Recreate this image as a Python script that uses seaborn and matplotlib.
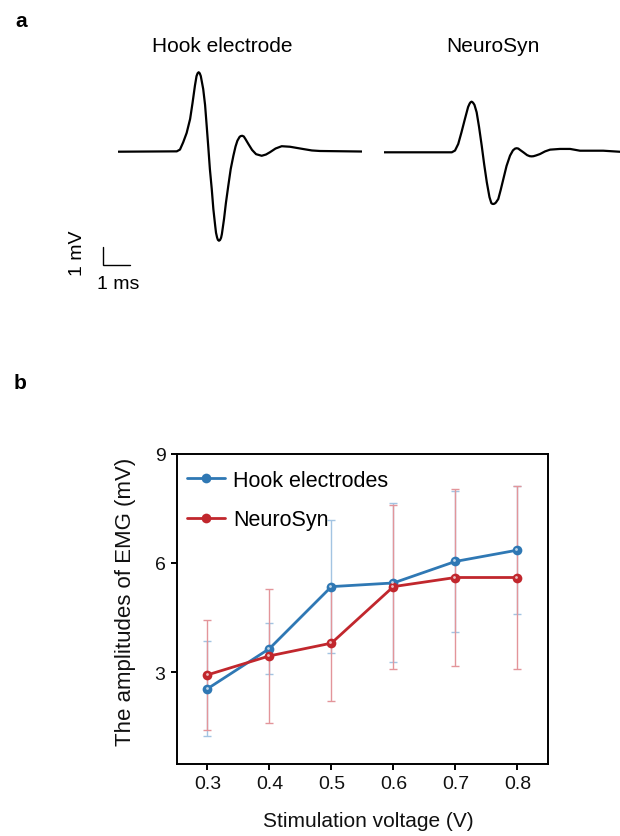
import numpy as np
import pandas as pd
import matplotlib
matplotlib.use("Agg")
import matplotlib.pyplot as plt
import matplotlib.transforms as mtransforms
from matplotlib.lines import Line2D
import seaborn as sns

# ---- panel a: representative EMG traces (time in ms, amplitude in mV) ----
hook_t = [0.00, 2.19, 2.31, 2.43, 2.56, 2.69, 2.78, 2.87, 2.93, 2.97, 3.01, 3.05,
          3.09, 3.18, 3.25, 3.31, 3.37, 3.43, 3.50, 3.56, 3.63, 3.66, 3.70, 3.73,
          3.77, 3.81, 3.85, 3.88, 3.96, 4.03, 4.12, 4.21, 4.31, 4.39, 4.46, 4.54,
          4.58, 4.64, 4.70, 4.76, 4.87, 5.01, 5.16, 5.37, 5.53, 5.68, 5.89, 6.12,
          6.43, 6.66, 6.93, 7.25, 7.55, 9.13]
hook_v = [0.00, 0.02, 0.12, 0.53, 1.06, 1.85, 2.75, 3.73, 4.27, 4.43, 4.49, 4.43,
          4.27, 3.54, 2.64, 1.47, 0.27, -0.98, -2.11, -3.24, -4.20, -4.58, -4.85, -4.98,
          -5.03, -4.99, -4.86, -4.65, -3.80, -2.90, -1.92, -0.98, -0.23, 0.29, 0.62, 0.83,
          0.88, 0.90, 0.86, 0.72, 0.44, 0.10, -0.14, -0.23, -0.16, -0.03, 0.18, 0.31,
          0.28, 0.22, 0.15, 0.07, 0.04, 0.01]

neuro_t = [0.00, 2.54, 2.66, 2.78, 2.90, 3.03, 3.15, 3.21, 3.245, 3.28, 3.315, 3.35,
           3.39, 3.47, 3.56, 3.66, 3.75, 3.85, 3.95, 4.02, 4.055, 4.09, 4.125, 4.16,
           4.19, 4.28, 4.37, 4.47, 4.59, 4.72, 4.83, 4.91, 4.97, 5.03, 5.09, 5.22,
           5.36, 5.46, 5.53, 5.60, 5.69, 5.84, 6.03, 6.22, 6.59, 6.97, 7.34, 8.21, 8.84]
neuro_v = [0.00, 0.00, 0.10, 0.47, 1.12, 1.88, 2.56, 2.76, 2.83, 2.86, 2.83, 2.77,
           2.67, 2.26, 1.43, 0.37, -0.66, -1.69, -2.53, -2.87, -2.91, -2.92, -2.91, -2.88,
           -2.84, -2.64, -2.13, -1.51, -0.77, -0.19, 0.11, 0.21, 0.23, 0.21, 0.14, 0.00,
           -0.16, -0.22, -0.23, -0.22, -0.18, -0.10, 0.05, 0.15, 0.19, 0.19, 0.09, 0.09, 0.03]

# ---- panel b: EMG amplitude vs stimulation voltage (mean ± SD) ----
voltages = [0.3, 0.4, 0.5, 0.6, 0.7, 0.8]
hook_mean = [2.55, 3.65, 5.35, 5.45, 6.04, 6.35]
hook_sd = [1.30, 0.70, 1.83, 2.18, 1.94, 1.76]
neuro_mean = [2.93, 3.45, 3.80, 5.35, 5.60, 5.60]
neuro_sd = [1.50, 1.84, 1.58, 2.25, 2.42, 2.52]
groups = ["Hook electrodes", "NeuroSyn"]
x_ticks = [0.3, 0.4, 0.5, 0.6, 0.7, 0.8]
y_ticks = [3, 6, 9]

BLUE = "#2f78b4"
RED = "#c1272d"
BLUE_ERR = "#a3c4e2"
RED_ERR = "#e3959a"

sns.set_theme(style="white")
plt.rcParams["font.family"] = ["Liberation Sans", "DejaVu Sans"]
plt.rcParams["text.color"] = "black"
plt.rcParams["axes.labelcolor"] = "black"

W, H = 620, 837
fig = plt.figure(figsize=(W / 100, H / 100), dpi=100)


def fig_box(x0, y0, x1, y1):
    """Pixel box (top-left origin) -> figure fraction rect."""
    return [x0 / W, 1 - y1 / H, (x1 - x0) / W, (y1 - y0) / H]


PX_PER_MS = 26.7
PX_PER_MV = 17.7

# trace axes share the same scale (1 ms / 1 mV per scale bar)
ax_h = fig.add_axes(fig_box(118.3, 60, 362, 250))
ax_h.set_xlim(0, (362 - 118.3) / PX_PER_MS)
ax_h.set_ylim((152.7 - 250) / PX_PER_MV, (152.7 - 60) / PX_PER_MV)
sns.lineplot(x=hook_t, y=hook_v, ax=ax_h, color="black", linewidth=1.6, sort=False)
ax_h.axis("off")

ax_n = fig.add_axes(fig_box(384, 60, 620, 250))
ax_n.set_xlim(0, (620 - 384) / PX_PER_MS)
ax_n.set_ylim((153.3 - 250) / PX_PER_MV, (153.3 - 60) / PX_PER_MV)
sns.lineplot(x=neuro_t, y=neuro_v, ax=ax_n, color="black", linewidth=1.6, sort=False)
ax_n.axis("off")

# scale bar: 1 ms horizontal, 1 mV vertical
sb_x0 = (103.3 - 118.3) / PX_PER_MS
sb_y0 = (152.7 - 266) / PX_PER_MV
ax_h.plot([sb_x0, sb_x0, sb_x0 + 1.0], [sb_y0 + 1.0, sb_y0, sb_y0],
          color="black", linewidth=1.0, clip_on=False, solid_joinstyle="miter")
ax_h.text(sb_x0 + 0.55, sb_y0 - 1.05, "1 ms", ha="center", va="center", fontsize=14)
ax_h.text(sb_x0 - 0.95, sb_y0 + 0.7, "1 mV", ha="center", va="center",
          rotation=90, fontsize=14)

fig.text(222.5 / W, 1 - 46.7 / H, "Hook electrode", ha="center", va="center", fontsize=15)
fig.text(493.3 / W, 1 - 46.7 / H, "NeuroSyn", ha="center", va="center", fontsize=15)
fig.text(21 / W, 1 - 21.7 / H, "a", ha="center", va="center", fontsize=15, fontweight="bold")
fig.text(20 / W, 1 - 383.3 / H, "b", ha="center", va="center", fontsize=15, fontweight="bold")

# ---- panel b axes ----
ax = fig.add_axes(fig_box(176.5, 454.5, 548.3, 764.5))

df = pd.DataFrame({
    "voltage": voltages * 2,
    "amplitude": hook_mean + neuro_mean,
    "sd": hook_sd + neuro_sd,
    "group": [groups[0]] * len(voltages) + [groups[1]] * len(voltages),
})
palette = {groups[0]: BLUE, groups[1]: RED}
err_colors = {groups[0]: BLUE_ERR, groups[1]: RED_ERR}

for i, g in enumerate(groups):
    sub = df[df["group"] == g]
    ax.errorbar(sub["voltage"], sub["amplitude"], yerr=sub["sd"], fmt="none",
                ecolor=err_colors[g], elinewidth=1.0, capsize=2.8,
                capthick=1.0, zorder=1 + i * 0.1)

sns.lineplot(data=df, x="voltage", y="amplitude", hue="group", palette=palette,
             marker="o", markersize=7, markeredgewidth=0, linewidth=2.0,
             ax=ax, legend=False, zorder=3)

# small glossy highlight on each marker
hl = mtransforms.offset_copy(ax.transData, fig=fig, x=-0.7, y=0.7, units="points")
ax.scatter(df["voltage"], df["amplitude"], s=4, color="white", alpha=0.7,
           linewidths=0, transform=hl, zorder=4)

ax.set_xlim(0.25, 0.85)
ax.set_ylim(0.5, 9)
ax.set_xticks(x_ticks)
ax.set_xticklabels([f"{v:.1f}" for v in x_ticks])
ax.set_yticks(y_ticks)
ax.set_yticklabels([str(v) for v in y_ticks])
ax.tick_params(axis="both", which="major", direction="out", length=4, width=1.4,
               labelsize=14, color="black", labelcolor="#111111", pad=4,
               bottom=True, left=True)
for sp in ax.spines.values():
    sp.set_visible(True)
    sp.set_color("black")
    sp.set_linewidth(1.4)
ax.grid(False)
ax.set_xlabel("Stimulation voltage (V)", fontsize=15, color="#111111")
ax.xaxis.set_label_coords((368.3 - 176.5) / 371.8, -(821.7 - 764.5) / 310, transform=ax.transAxes)
ax.xaxis.label.set_va("center")
ax.set_ylabel("The amplitudes of EMG (mV)", fontsize=16, color="#111111")
ax.yaxis.set_label_coords((125 - 176.5) / 371.8, (764.5 - 602) / 310, transform=ax.transAxes)
ax.yaxis.label.set_va("center")

handles = []
for g in groups:
    h = Line2D([0], [0], color=palette[g], linewidth=2.0, marker="o",
               markersize=7, markeredgewidth=0)
    handles.append(h)
ax.legend(handles, groups, loc="upper left", frameon=False, fontsize=15.5,
          handlelength=1.75, handletextpad=0.4, labelspacing=0.85,
          borderaxespad=0.0, bbox_to_anchor=(0.005, 0.975))

fig.savefig("out.png", dpi=100, facecolor="white")
